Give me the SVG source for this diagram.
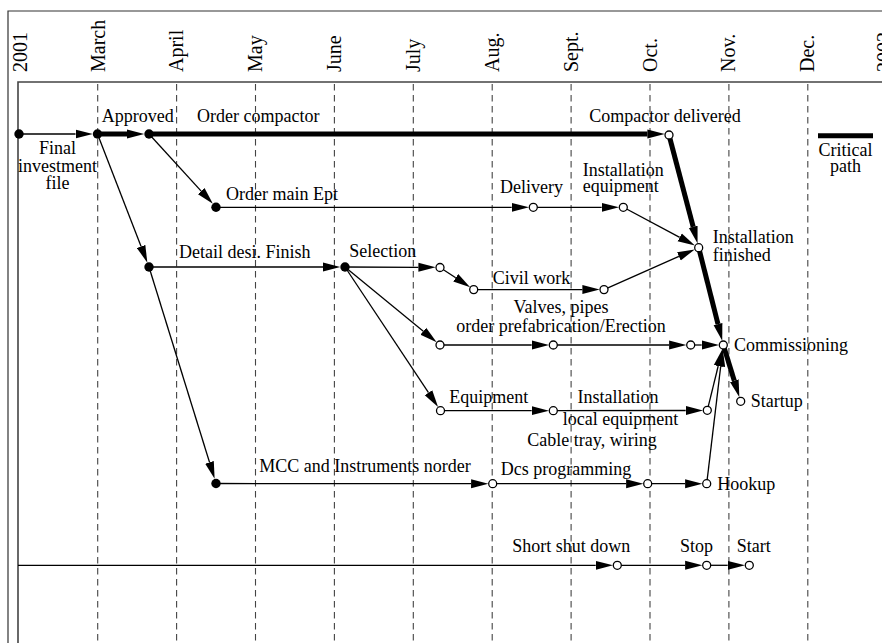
<svg xmlns="http://www.w3.org/2000/svg" width="882" height="643" viewBox="0 0 882 643">
<style>
text{font-family:"Liberation Serif","Times New Roman",serif;font-size:18px;fill:#000}
.mo{font-size:20px}
.frame{stroke:#333;stroke-width:1.2;fill:none}
.frame2{stroke:#444;stroke-width:1.6;fill:none}
.grid{stroke:#444;stroke-width:1.1;stroke-dasharray:6.5,4.5;fill:none}
.e{stroke:#000;stroke-width:1.3;fill:none;marker-end:url(#ah)}
.ec{stroke:#000;stroke-width:5;fill:none;marker-end:url(#ah)}
.f{fill:#000}
.o{fill:#fff;stroke:#000;stroke-width:1.3}
</style>
<defs>
<marker id="ah" viewBox="0 -5 18 10" refX="0" refY="0" markerWidth="18" markerHeight="10" markerUnits="userSpaceOnUse" orient="auto">
<path d="M0,-4.5 L17.3,0 L0,4.5 z" fill="#000"/>
</marker>
</defs>
<rect width="882" height="643" fill="#fff"/>
<g id="frame">
<path class="frame" d="M8,643 V11 H882"/>
<path class="frame2" d="M18,643 V82 H882"/>
</g>
<g id="grid">
<line class="grid" x1="97.7" y1="84" x2="97.7" y2="643"/>
<line class="grid" x1="176.6" y1="84" x2="176.6" y2="643"/>
<line class="grid" x1="255.5" y1="84" x2="255.5" y2="643"/>
<line class="grid" x1="334.4" y1="84" x2="334.4" y2="643"/>
<line class="grid" x1="413.3" y1="84" x2="413.3" y2="643"/>
<line class="grid" x1="492.2" y1="84" x2="492.2" y2="643"/>
<line class="grid" x1="571.1" y1="84" x2="571.1" y2="643"/>
<line class="grid" x1="650" y1="84" x2="650" y2="643"/>
<line class="grid" x1="728.9" y1="84" x2="728.9" y2="643"/>
<line class="grid" x1="807.8" y1="84" x2="807.8" y2="643"/>
</g>
<g id="months">
<text class="mo" transform="translate(27,72) rotate(-90)">2001</text>
<text class="mo" transform="translate(104.5,72) rotate(-90)">March</text>
<text class="mo" transform="translate(183.2,72) rotate(-90)">April</text>
<text class="mo" transform="translate(262,72) rotate(-90)">May</text>
<text class="mo" transform="translate(341,72) rotate(-90)">June</text>
<text class="mo" transform="translate(420,72) rotate(-90)">July</text>
<text class="mo" transform="translate(498.8,72) rotate(-90)">Aug.</text>
<text class="mo" transform="translate(577.7,72) rotate(-90)">Sept.</text>
<text class="mo" transform="translate(656.5,72) rotate(-90)">Oct.</text>
<text class="mo" transform="translate(735.4,72) rotate(-90)">Nov.</text>
<text class="mo" transform="translate(814,72) rotate(-90)">Dec.</text>
<text class="mo" transform="translate(891,72) rotate(-90)">2002</text>
</g>
<g id="connectors">
<line class="e" x1="19" y1="134" x2="75.5" y2="134"/>
<line class="ec" x1="97.5" y1="134" x2="127" y2="134"/>
<line class="ec" x1="149" y1="134" x2="647.4" y2="134"/>
<line class="ec" x1="669" y1="135" x2="693.2" y2="226.8"/>
<line class="ec" x1="698.7" y1="247.7" x2="718" y2="324.1"/>
<line class="ec" x1="723.3" y1="345" x2="734.3" y2="380.7"/>
<line class="e" x1="97.5" y1="134" x2="141.1" y2="246.5"/>
<line class="e" x1="149" y1="134" x2="201.2" y2="191.1"/>
<line class="e" x1="216" y1="207.3" x2="511.7" y2="207.3"/>
<line class="e" x1="533.3" y1="207.3" x2="601.7" y2="207.3"/>
<line class="e" x1="623.3" y1="207.3" x2="679.7" y2="237.4"/>
<line class="e" x1="149" y1="267" x2="323" y2="267"/>
<line class="e" x1="149" y1="267" x2="209.5" y2="462.3"/>
<line class="e" x1="345" y1="267" x2="418.4" y2="267.3"/>
<line class="e" x1="440" y1="267.5" x2="455.7" y2="277.8"/>
<line class="e" x1="473.7" y1="289.6" x2="582.4" y2="289.6"/>
<line class="e" x1="604" y1="289.6" x2="678.9" y2="256.4"/>
<line class="e" x1="345" y1="267" x2="423.3" y2="331.3"/>
<line class="e" x1="345" y1="267" x2="428.5" y2="392.7"/>
<line class="e" x1="440" y1="345" x2="531.7" y2="345"/>
<line class="e" x1="553.3" y1="345" x2="669.1" y2="345"/>
<line class="e" x1="690.7" y1="345" x2="701.7" y2="345"/>
<line class="e" x1="440.5" y1="410.7" x2="531.7" y2="410.7"/>
<line class="e" x1="553.3" y1="410.7" x2="685.7" y2="410.5"/>
<line class="e" x1="707.3" y1="410.3" x2="718.2" y2="366"/>
<line class="e" x1="216" y1="483.5" x2="471.1" y2="483.7"/>
<line class="e" x1="492.7" y1="483.7" x2="626.1" y2="483.7"/>
<line class="e" x1="647.7" y1="483.7" x2="685.1" y2="483.7"/>
<line class="e" x1="706.7" y1="483.7" x2="720.7" y2="366.4"/>
<line class="e" x1="18" y1="565.3" x2="595.7" y2="565.3"/>
<line class="e" x1="617.3" y1="565.3" x2="685.1" y2="565.3"/>
<line class="e" x1="706.7" y1="565.3" x2="727.7" y2="565.3"/>
</g>
<g id="n-start"><circle class="f" cx="19" cy="134" r="4.7"/>
<text x="57.5" y="154" text-anchor="middle">Final</text>
<text x="57.5" y="171.5" text-anchor="middle">investment</text>
<text x="57.5" y="189" text-anchor="middle">file</text></g>
<g id="n-approved"><circle class="f" cx="97.5" cy="134" r="4.7"/><text x="101.7" y="122">Approved</text></g>
<g id="n-order-compactor"><circle class="f" cx="149" cy="134" r="4.7"/><text x="197" y="122">Order compactor</text></g>
<g id="n-compactor-delivered"><circle class="o" cx="669" cy="135" r="4"/><text x="589.3" y="122">Compactor delivered</text></g>
<g id="n-order-main"><circle class="f" cx="216" cy="207.3" r="4.7"/><text x="226" y="200">Order main Ept</text></g>
<g id="n-delivery"><circle class="o" cx="533.3" cy="207.3" r="4"/><text x="500" y="193">Delivery</text></g>
<g id="n-install-eq"><circle class="o" cx="623.3" cy="207.3" r="4"/><text x="582.7" y="176">Installation</text><text x="582.7" y="192.3">equipment</text></g>
<g id="n-install-fin"><circle class="o" cx="698.7" cy="247.7" r="4"/><text x="712.7" y="243.3">Installation</text><text x="712.7" y="261">finished</text></g>
<g id="n-detail"><circle class="f" cx="149" cy="267" r="4.7"/><text x="179" y="258.3">Detail desi. Finish</text></g>
<g id="n-selection"><circle class="f" cx="345" cy="267" r="4.7"/><text x="349.3" y="256.7">Selection</text></g>
<g id="n-sel-out"><circle class="o" cx="440" cy="267.5" r="4"/></g>
<g id="n-civil-start"><circle class="o" cx="473.7" cy="289.6" r="4"/><text x="492.7" y="284.3">Civil work</text></g>
<g id="n-civil-end"><circle class="o" cx="604" cy="289.6" r="4"/></g>
<g id="n-valves-start"><circle class="o" cx="440" cy="345" r="4"/></g>
<g id="n-valves-mid"><circle class="o" cx="553.3" cy="345" r="4"/><text x="561" y="313.3" text-anchor="middle">Valves, pipes</text><text x="561" y="331.7" text-anchor="middle">order prefabrication/Erection</text></g>
<g id="n-valves-end"><circle class="o" cx="690.7" cy="345" r="4"/></g>
<g id="n-commissioning"><circle class="o" cx="723.3" cy="345" r="4"/><text x="734" y="351">Commissioning</text></g>
<g id="n-startup"><circle class="o" cx="740.7" cy="401.3" r="4"/><text x="750.7" y="406.7">Startup</text></g>
<g id="n-equipment"><circle class="o" cx="440.5" cy="410.7" r="4"/><text x="449.3" y="403.3">Equipment</text></g>
<g id="n-equip-mid"><circle class="o" cx="553.3" cy="410.7" r="4"/><text x="618" y="403.3" text-anchor="middle">Installation</text><text x="620.5" y="425" text-anchor="middle">local equipment</text><text x="592" y="445.7" text-anchor="middle">Cable tray, wiring</text></g>
<g id="n-local-end"><circle class="o" cx="707.3" cy="410.3" r="4"/></g>
<g id="n-mcc"><circle class="f" cx="216" cy="483.5" r="4.7"/><text x="259.3" y="471.7">MCC and Instruments norder</text></g>
<g id="n-dcs-start"><circle class="o" cx="492.7" cy="483.7" r="4"/><text x="500.7" y="475">Dcs programming</text></g>
<g id="n-dcs-end"><circle class="o" cx="647.7" cy="483.7" r="4"/></g>
<g id="n-hookup"><circle class="o" cx="706.7" cy="483.7" r="4"/><text x="717.3" y="490">Hookup</text></g>
<g id="n-shutdown"><circle class="o" cx="617.3" cy="565.3" r="4"/><text x="512.3" y="551.7">Short shut down</text></g>
<g id="n-stop"><circle class="o" cx="706.7" cy="565.3" r="4"/><text x="680" y="551.7">Stop</text></g>
<g id="n-start2"><circle class="o" cx="749.3" cy="565.3" r="4"/><text x="736.7" y="551.7">Start</text></g>
<g id="legend">
<line x1="818" y1="135.7" x2="873" y2="135.7" stroke="#000" stroke-width="5"/>
<text x="845.5" y="156" text-anchor="middle">Critical</text>
<text x="845.5" y="172" text-anchor="middle">path</text>
</g>
</svg>
